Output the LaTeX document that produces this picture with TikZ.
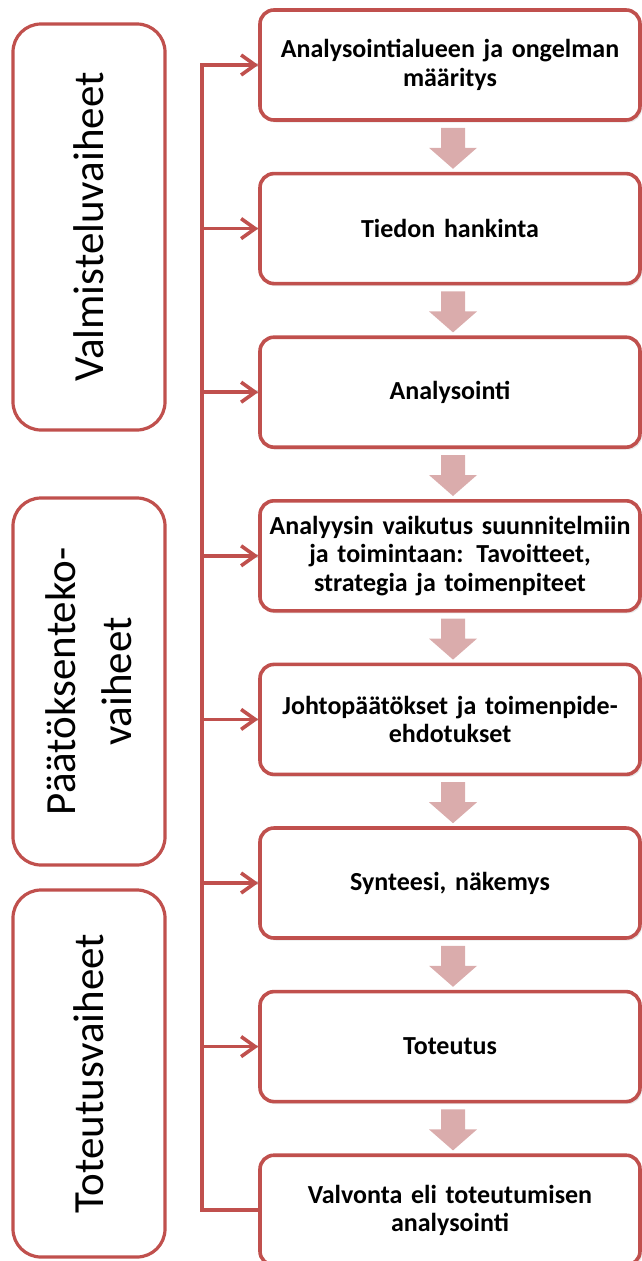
\documentclass[tikz,border=0pt]{standalone}
\usepackage{fontspec}
\setmainfont{Carlito}
\usetikzlibrary{arrows.meta,shadows}
\definecolor{framered}{RGB}{192,80,77}
\definecolor{flowpink}{RGB}{218,172,172}
\begin{document}
\begin{tikzpicture}[x=1pt,y=-1pt,
  stage/.style={draw=framered, line width=3.6pt, fill=white, rounded corners=14pt,
    minimum width=380pt, minimum height=110pt, inner sep=0pt, align=center,
    text width=372pt, font=\fontsize{26}{28.5}\selectfont\bfseries,
    drop shadow={shadow xshift=2pt, shadow yshift=-2.5pt, opacity=0.18}},
  phase/.style={draw=framered, line width=3.2pt, fill=white, rounded corners=28pt,
    minimum height=152pt, rotate=90, align=center, inner sep=0pt,
    font=\fontsize{43}{56}\selectfont},
  feed/.style={draw=framered, line width=3.6pt, line join=miter},
  feedtip/.style={feed, -{Straight Barb[length=14pt,width=20pt]}},
  feedshade/.style={draw=black, opacity=0.15, line width=3.6pt},
  flowarrow/.style={fill=flowpink}
]
\useasboundingbox (0,0) rectangle (641,1261);

% phase groups on the left
\node[phase, minimum width=406pt] (L1) at (89,227) {Valmisteluvaiheet};
\node[phase, minimum width=367pt] (L2) at (89,681.5) {Päätöksenteko-\\vaiheet};
\node[phase, minimum width=367pt] (L3) at (89,1073.5) {Toteutusvaiheet};

% process steps on the right
\node[stage] (b1) at (450,65)     {Analysointialueen ja ongelman\\määritys};
\node[stage] (b2) at (450,228.6)  {Tiedon hankinta};
\node[stage] (b3) at (450,392.2)  {Analysointi};
\node[stage] (b4) at (450,555.8)  {Analyysin vaikutus suunnitelmiin\\ja toimintaan: Tavoitteet,\\strategia ja toimenpiteet};
\node[stage] (b5) at (450,719.4)  {Johtopäätökset ja toimenpide-\\ehdotukset};
\node[stage] (b6) at (450,883)    {Synteesi, näkemys};
\node[stage] (b7) at (450,1046.6) {Toteutus};
\node[stage] (b8) at (450,1210.2) {Valvonta eli toteutumisen\\analysointi};

% block arrows between consecutive steps
\foreach \i in {1,...,7}{
  \begin{scope}[shift={(b\i.south)}]
    \fill[flowarrow] (-9,6) -- (15,6) -- (15,26) -- (27,26) -- (3,47)
      -- (-21,26) -- (-9,26) -- cycle;
  \end{scope}
}

% trunk line feeding every step
\path (b1.west) ++(-56,0) coordinate (trunktop);
\begin{scope}[xshift=1.5pt, yshift=-2pt]
  \draw[feedshade] (b8.west) -| (trunktop) -- (b1.west);
  \foreach \i in {2,...,7}{
    \draw[feedshade] (trunktop |- b\i.west) -- (b\i.west);
  }
\end{scope}
\draw[feedtip] (b8.west) -| (trunktop) -- (b1.west);
\foreach \i in {2,...,7}{
  \draw[feedtip] (trunktop |- b\i.west) -- (b\i.west);
}
\end{tikzpicture}
\end{document}
